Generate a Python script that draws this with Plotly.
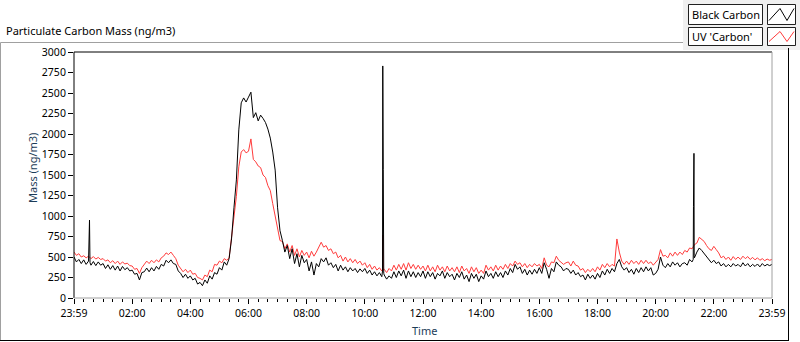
import plotly.graph_objects as go

# ---------------- data (minutes since 23:59 start, 5-min steps) ----------------
chart_title = "Particulate Carbon Mass (ng/m3)"
y_title = "Mass (ng/m3)"
x_title = "Time"
series_names = ["Black Carbon", "UV 'Carbon'"]
x_tick_minutes = [0, 120, 240, 360, 480, 600, 720, 840, 960, 1080, 1200, 1320, 1440]
x_tick_labels = ["23:59", "02:00", "04:00", "06:00", "08:00", "10:00", "12:00",
                 "14:00", "16:00", "18:00", "20:00", "22:00", "23:59"]
y_tick_values = [0, 250, 500, 750, 1000, 1250, 1500, 1750, 2000, 2250, 2500, 2750, 3000]

black_carbon = [
    500, 440, 470, 420, 465, 410, 450, 400, 445, 395, 440, 400,
    420, 360, 405, 350, 395, 340, 390, 330, 385, 345, 370, 330,
    340, 290, 300, 220, 310, 320, 365, 320, 370, 330, 385, 350,
    410, 390, 460, 430, 465, 420, 410, 330, 300, 250, 290, 240,
    270, 220, 240, 170, 190, 150, 220, 180, 270, 230, 310, 290,
    370, 340, 440, 400, 480, 720, 1100, 1440, 2050, 2380, 2440, 2390,
    2450, 2510, 2200, 2260, 2160, 2230, 2190, 2140, 2060, 1950, 1780, 1560,
    1100, 820, 700, 560, 640, 480, 600, 420, 540, 380, 520, 430,
    470, 330, 440, 280, 420, 380, 480, 440, 490, 400, 430, 370,
    410, 330, 400, 340, 380, 320, 370, 330, 360, 310, 355, 320,
    360, 300, 340, 280, 320, 270, 310, 260, 280, 230, 270, 240,
    320, 250, 330, 270, 340, 240, 330, 260, 320, 250, 310, 260,
    330, 240, 320, 260, 310, 230, 300, 270, 330, 240, 310, 260,
    290, 220, 300, 250, 320, 230, 280, 200, 300, 240, 290, 200,
    270, 230, 330, 260, 300, 240, 320, 260, 310, 250, 330, 280,
    360, 310, 410, 350, 380, 300, 350, 280, 340, 290, 350, 300,
    370, 300, 430, 350, 240, 360, 320, 440, 400, 380, 330, 360,
    350, 300, 340, 280, 310, 260, 280, 220, 290, 240, 280, 230,
    300, 250, 330, 280, 350, 300, 360, 320, 420, 470, 380, 340,
    370, 310, 350, 290, 360, 310, 370, 320, 380, 330, 370, 280,
    300, 350, 500, 400, 370, 420, 380, 440, 400, 430, 380, 420,
    430, 400, 470, 440, 490, 560, 610, 580, 540, 500, 460, 430,
    460, 420, 440, 390, 420, 380, 410, 380, 420, 390, 410, 380,
    430, 390, 420, 380, 410, 385, 415, 380, 420, 390, 410, 395,
    410,
]

uv_carbon = [
    560, 520, 540, 500, 515, 490, 510, 480, 505, 475, 495, 470,
    480, 450, 465, 430, 455, 420, 450, 410, 440, 415, 425, 395,
    390, 350, 360, 300, 370, 410, 450, 420, 460, 430, 465, 440,
    490, 510, 550, 530, 560, 520, 480, 400, 360, 320, 350, 310,
    340, 290, 300, 250, 240, 220, 280, 260, 340, 320, 410, 400,
    450, 430, 480, 460, 490, 720, 1000, 1240, 1600, 1780, 1810, 1770,
    1790, 1940, 1690, 1660, 1610, 1590, 1500, 1470, 1370, 1310, 1150, 1000,
    870, 700, 690, 600, 660, 560, 640, 520, 600, 500, 580, 520,
    560, 490, 570, 510, 560, 620, 680, 620, 640, 580, 600, 540,
    560, 490, 520, 450, 500, 440, 480, 430, 470, 420, 450, 400,
    430, 370, 410, 350, 390, 340, 370, 330, 350, 310, 360, 330,
    400, 340, 410, 350, 420, 340, 430, 360, 410, 350, 400, 350,
    390, 330, 400, 330, 380, 320, 400, 340, 380, 320, 390, 330,
    370, 320, 380, 310, 390, 330, 360, 300, 380, 320, 370, 300,
    340, 300, 400, 340, 380, 330, 400, 340, 390, 350, 410, 360,
    420, 390, 450, 410, 430, 380, 420, 370, 410, 380, 420, 390,
    410, 360, 490, 400, 380, 440, 430, 510, 460, 440, 410, 430,
    440, 390, 450, 400, 390, 340, 360, 310, 350, 320, 360, 320,
    380, 340, 410, 370, 420, 380, 410, 390, 720, 560, 450, 410,
    450, 410, 460, 420, 450, 410, 460, 420, 460, 420, 440, 400,
    430, 470, 590, 510, 520, 490, 550, 510, 560, 520, 560, 530,
    580, 560, 610, 600, 650, 670, 740, 710, 690, 640, 600, 580,
    630, 590, 550, 490, 510, 470, 500, 460, 505, 470, 500, 470,
    510, 480, 505, 470, 495, 465, 490, 460, 480, 455, 475, 460,
    470,
]

# short single-sample spikes (minute, value)
bc_spike_minutes = [31, 32, 33, 636.5, 637, 638, 639, 1277.5, 1278, 1279, 1279.5]
bc_spike_values = [686, 951, 430, 330, 2830, 1570, 300, 470, 1113, 1764, 520]
uv_spike_minutes = [636.5, 637, 638]
uv_spike_values = [350, 768, 340]

STEP = 5


def merged(values, spike_t, spike_v):
    pts = [(i * STEP, v) for i, v in enumerate(values)] + list(zip(spike_t, spike_v))
    pts.sort(key=lambda p: p[0])
    return [p[0] for p in pts], [p[1] for p in pts]


bx, by = merged(black_carbon, bc_spike_minutes, bc_spike_values)
ux, uy = merged(uv_carbon, uv_spike_minutes, uv_spike_values)

# ---------------- figure ----------------
W, H = 800, 342
L, R, T, B = 74, 772, 52, 298  # plot area in pixels


def px(x):
    return (x - L) / (R - L)


def py(y):
    return (B - y) / (B - T)


FONT = "Noto Sans"
fig = go.Figure()
fig.add_trace(go.Scatter(x=ux, y=uy, mode="lines", name=series_names[1],
                         line=dict(color="#ff3b3b", width=1)))
fig.add_trace(go.Scatter(x=bx, y=by, mode="lines", name=series_names[0],
                         line=dict(color="#000000", width=1)))

shapes = []


def line(x0, y0, x1, y1, color, width=1):
    shapes.append(dict(type="line", xref="paper", yref="paper",
                       x0=px(x0), y0=py(y0), x1=px(x1), y1=py(y1),
                       line=dict(color=color, width=width)))


def rect(x0, y0, x1, y1, fill, border, width=1):
    shapes.append(dict(type="rect", xref="paper", yref="paper",
                       x0=px(x0), y0=py(y0), x1=px(x1), y1=py(y1),
                       fillcolor=fill, line=dict(color=border, width=width)))


# outer frame
rect(683, 0, 800, 50, "#f0f0f0", "rgba(0,0,0,0)", 0)
line(0.5, 42.5, 683, 42.5, "#a0a0a0")
line(0.5, 42.5, 0.5, 341, "#a0a0a0")
line(0, 340.5, 789, 340.5, "#000000")
line(788.5, 48, 788.5, 341, "#000000")
# plot frame
line(L, T, R, T, "#000000")
line(L, T, L, B, "#000000")
line(R, T, R, B, "#a0a0a0")
line(L, B, R, B, "#a0a0a0")

annotations = []
# legend boxes
legend_rows = [(4.5, 24.5, "#000000"), (27.5, 45.5, "#ff3b3b")]
for name, (y0, y1, col) in zip(series_names, legend_rows):
    rect(688.5, y0, 762.5, y1, "#ffffff", "#202020")
    rect(767.5, y0, 795.5, y1, "#ffffff", "#202020")
    path = "M {} {} L {} {} L {} {} L {} {}".format(
        px(769), py(y1 - 4), px(780), py(y0 + 4), px(787), py(y1 - 4), px(794), py(y0 + 4))
    shapes.append(dict(type="path", xref="paper", yref="paper", path=path,
                       line=dict(color=col, width=1)))
    annotations.append(dict(text=name, xref="paper", yref="paper", x=px(690), y=py((y0 + y1) / 2),
                            xanchor="left", yanchor="middle", showarrow=False,
                            font=dict(family=FONT, size=11, color="#000000")))

annotations.append(dict(text=chart_title, xref="paper", yref="paper", x=px(4), y=py(31),
                        xanchor="left", yanchor="middle", showarrow=False,
                        font=dict(family=FONT, size=11, color="#000000")))
annotations.append(dict(text=y_title, xref="paper", yref="paper", x=px(32), y=py(168),
                        xanchor="center", yanchor="middle", showarrow=False, textangle=-90,
                        font=dict(family=FONT, size=11, color="#1c3c58")))
annotations.append(dict(text=x_title, xref="paper", yref="paper", x=px(424), y=py(330),
                        xanchor="center", yanchor="middle", showarrow=False,
                        font=dict(family=FONT, size=11, color="#1c3c58")))

fig.update_layout(
    width=W, height=H,
    margin=dict(l=L, r=W - R, t=T, b=H - B),
    paper_bgcolor="#ffffff", plot_bgcolor="#ffffff",
    showlegend=False,
    shapes=shapes, annotations=annotations,
    font=dict(family=FONT, size=10, color="#000000"),
    xaxis=dict(range=[0, 1440], tickmode="array", tickvals=x_tick_minutes,
               ticktext=x_tick_labels, ticks="outside", ticklen=5, tickcolor="#000000",
               showgrid=False, zeroline=False, showline=False,
               tickfont=dict(family=FONT, size=10.5, color="#000000"),
               minor=dict(tickmode="linear", tick0=0, dtick=20, ticks="outside",
                          ticklen=3, tickcolor="#000000", showgrid=False)),
    yaxis=dict(range=[0, 3000], tickmode="array", tickvals=y_tick_values,
               ticks="outside", ticklen=5, tickcolor="#000000",
               showgrid=False, zeroline=False, showline=False,
               tickfont=dict(family=FONT, size=10.5, color="#000000")),
)

fig.write_html("out.html", config={"displayModeBar": False},
               post_script="document.body.style.margin='0';")
